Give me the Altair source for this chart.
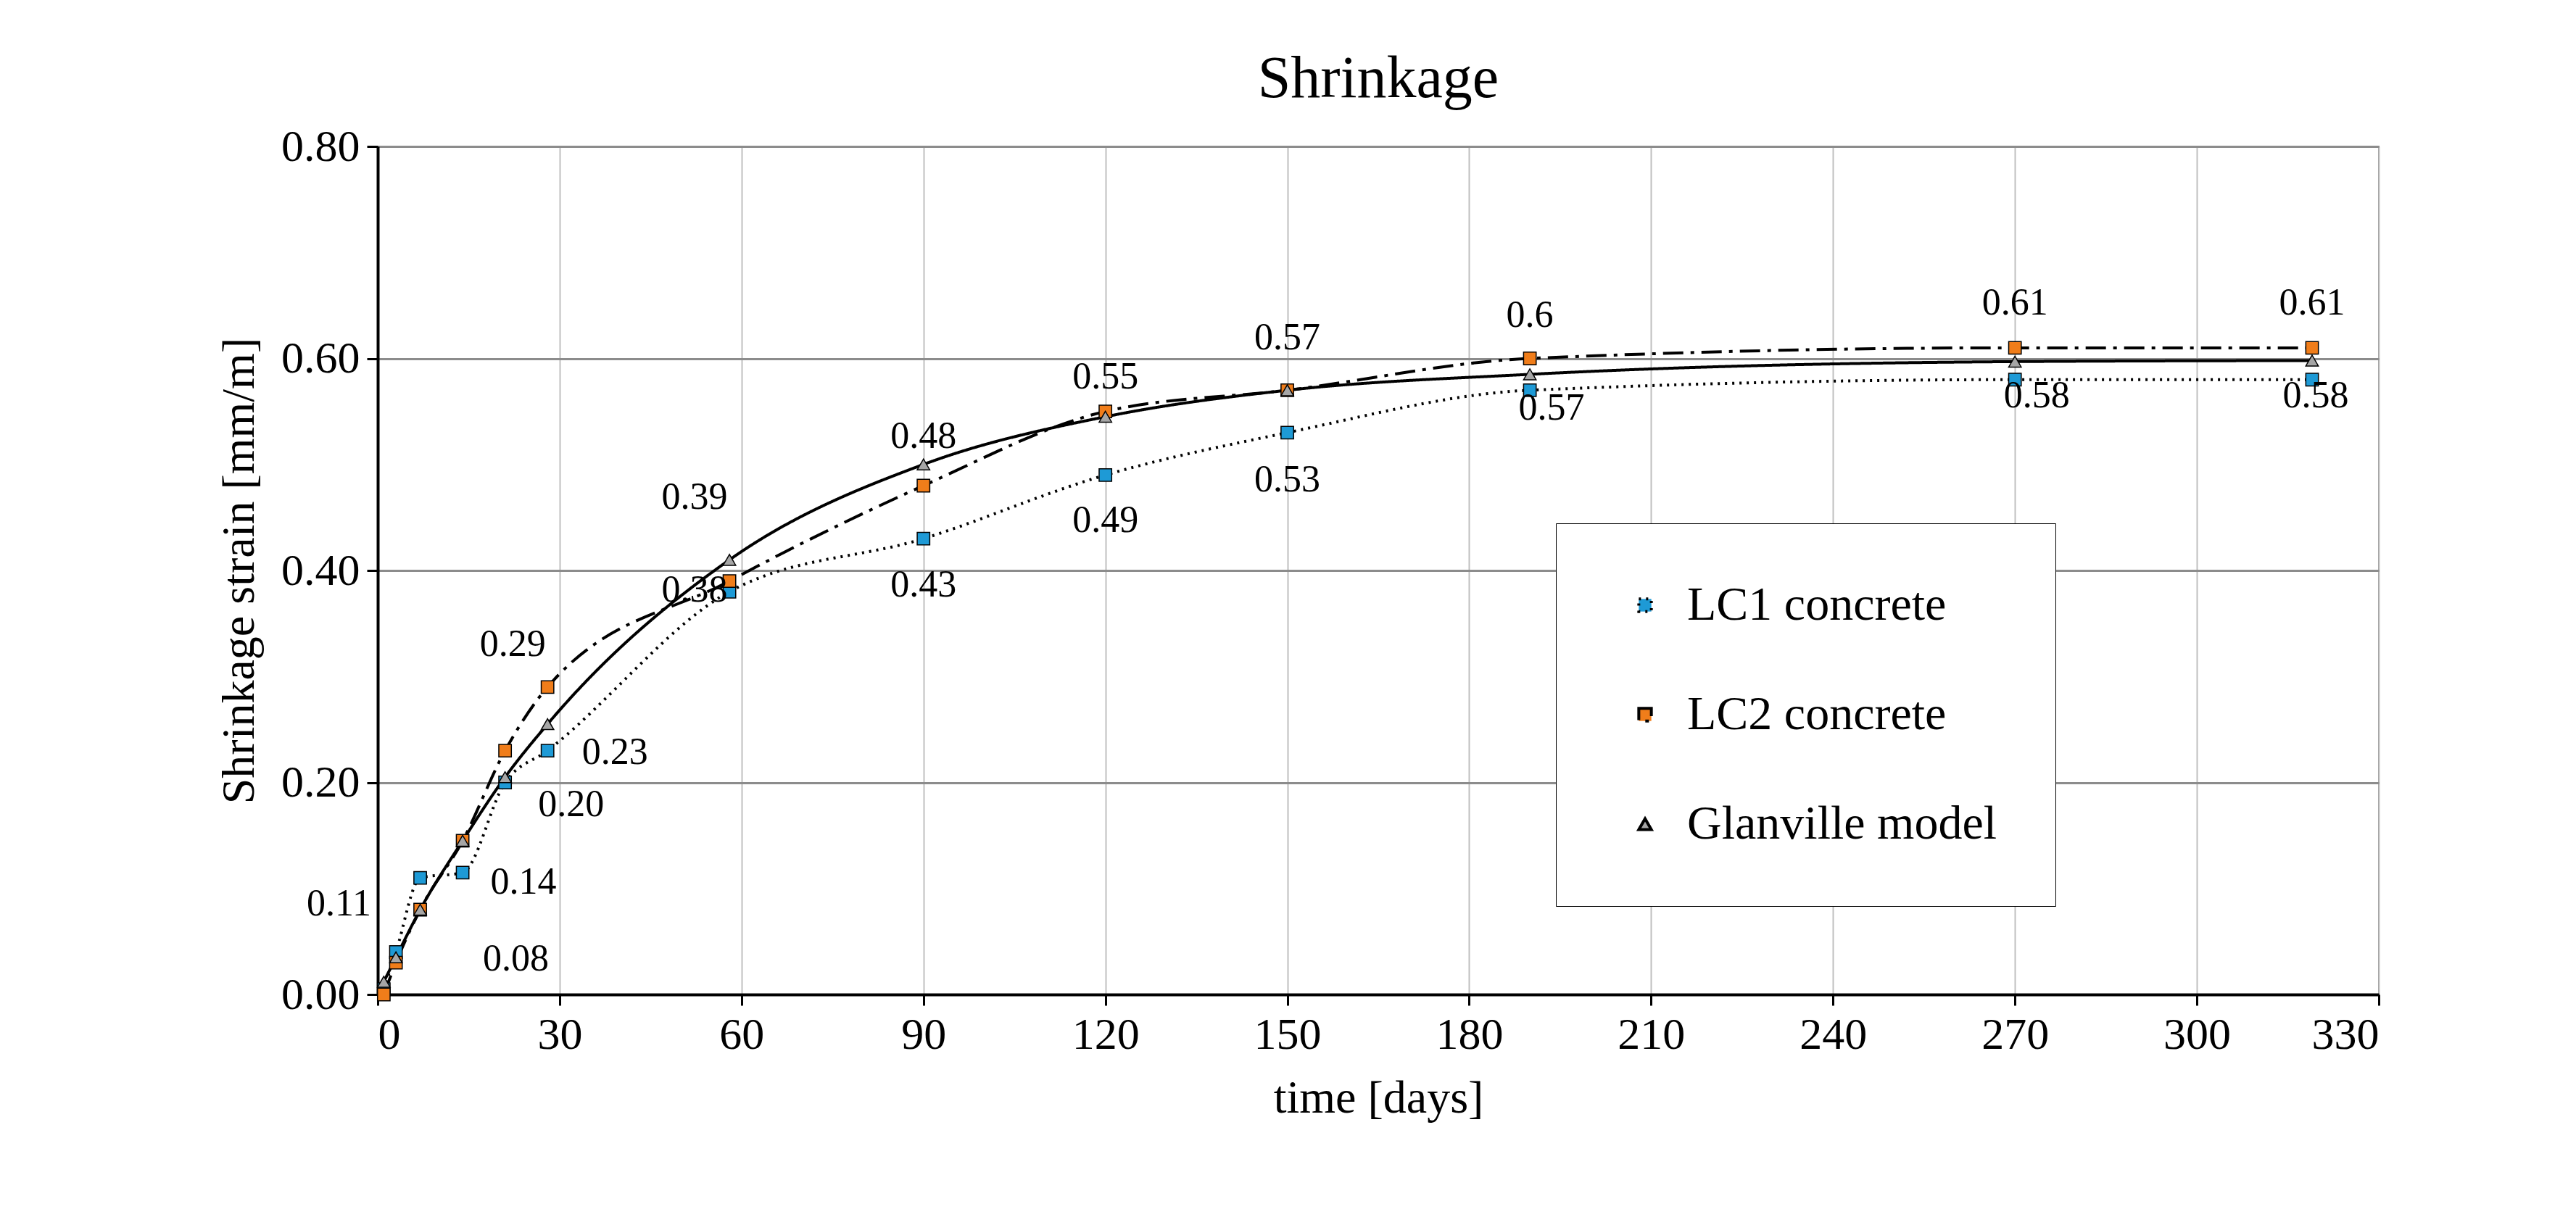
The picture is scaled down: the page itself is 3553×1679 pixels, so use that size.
import altair as alt
import pandas as pd

days = [1, 3, 7, 14, 21, 28, 58, 90, 120, 150, 190, 270, 319]
lc1 = [0.005, 0.04, 0.11, 0.115, 0.20, 0.23, 0.38, 0.43, 0.49, 0.53, 0.57, 0.58, 0.58]
lc2 = [0.0, 0.03, 0.08, 0.145, 0.23, 0.29, 0.39, 0.48, 0.55, 0.57, 0.60, 0.61, 0.61]
glan = [0.012, 0.035, 0.08, 0.145, 0.205, 0.255, 0.41, 0.50, 0.545, 0.57, 0.585, 0.597, 0.598]
series = ["LC1 concrete", "LC2 concrete", "Glanville model"]

rows = []
for name, vals in zip(series, [lc1, lc2, glan]):
    for d, v in zip(days, vals):
        rows.append({"day": d, "val": v, "series": name})
df = pd.DataFrame(rows)

lab_series = ["LC1 concrete", "LC2 concrete", "LC2 concrete", "LC1 concrete", "LC1 concrete",
              "LC2 concrete", "LC2 concrete", "LC1 concrete", "LC2 concrete", "LC1 concrete",
              "LC2 concrete", "LC1 concrete", "LC2 concrete", "LC1 concrete", "LC2 concrete",
              "LC1 concrete", "LC2 concrete", "LC1 concrete", "LC2 concrete", "LC1 concrete"]
lab_day = [7, 7, 14, 21, 28, 28, 58, 58, 90, 90, 120, 120, 150, 150, 190, 190, 270, 270, 319, 319]
lab_text = ["0.11", "0.08", "0.14", "0.20", "0.23", "0.29", "0.39", "0.38", "0.48", "0.43",
            "0.55", "0.49", "0.57", "0.53", "0.6", "0.57", "0.61", "0.58", "0.61", "0.58"]
lab_dx = [-112, 132, 84, 91, 93, -48, -48, -48, 0, 0, 0, 0, 0, 0, 0, 30, 0, 30, 0, 5]
lab_dy = [36, 68, 57, 30, 2, -59, -116, -2, -68, 64, -48, 63, -72, 65, -60, 25, -62, 22, -62, 22]

lut = {(r["series"], r["day"]): r["val"] for r in rows}
ldf = pd.DataFrame({"series": lab_series, "day": lab_day, "text": lab_text})
ldf["val"] = [lut[(s, d)] for s, d in zip(lab_series, lab_day)]

FONT = "Liberation Serif"
x = alt.X("day:Q", title="time [days]",
          scale=alt.Scale(domain=[0, 330], nice=False),
          axis=alt.Axis(values=list(range(0, 331, 30)), gridColor="#c0c0c0", gridWidth=2))
y = alt.Y("val:Q", title="Shrinkage strain [mm/m]",
          scale=alt.Scale(domain=[0, 0.8], nice=False),
          axis=alt.Axis(values=[0, 0.2, 0.4, 0.6, 0.8], format=".2f", gridColor="#8c8c8c", gridWidth=3))

lines = alt.Chart(df).mark_line(interpolate="monotone", color="black", strokeWidth=4).encode(
    x=x, y=y,
    strokeDash=alt.StrokeDash("series:N", sort=series,
        scale=alt.Scale(domain=series, range=[[3, 7], [28, 10, 5, 10], [1, 0]]),
        legend=alt.Legend(title=None, orient="none", legendX=1625, legendY=520,
                          symbolType="stroke", symbolStrokeColor="black", symbolStrokeWidth=4,
                          symbolSize=12000, labelFont=FONT, labelFontSize=66, rowPadding=85,
                          padding=80, fillColor="white", strokeColor="black",
                          labelLimit=1000, symbolOffset=10, labelOffset=25)),
)
points = alt.Chart(df).mark_point(filled=True, stroke="black", strokeWidth=1.5, opacity=1).encode(
    x=x, y=y,
    fill=alt.Fill("series:N", scale=alt.Scale(domain=series, range=["#1e9ad6", "#f07d1a", "#a6a6a6"]), legend=None),
    shape=alt.Shape("series:N", scale=alt.Scale(domain=series, range=["square", "square", "triangle-up"]), legend=None),
    size=alt.Size("series:N", scale=alt.Scale(domain=series, range=[300, 300, 550]), legend=None),
)

label_layers = [
    alt.Chart(ldf.iloc[[i]]).mark_text(font=FONT, fontSize=52, color="black",
                                        dx=int(lab_dx[i]), dy=int(lab_dy[i])).encode(
        x="day:Q", y="val:Q", text="text:N")
    for i in range(len(lab_text))
]

chart = alt.layer(lines, points, *label_layers).properties(
    width=2760, height=1170,
    title=alt.Title("Shrinkage", font=FONT, fontSize=82, fontWeight="normal", offset=20),
    padding={"left": 290, "top": 60, "right": 40, "bottom": 20},
).configure_axis(
    labelFont=FONT, titleFont=FONT, labelFontSize=62, titleFontSize=64, titleFontWeight="normal",
    labelColor="black", titleColor="black", domainColor="black", domainWidth=4,
    tickColor="black", tickWidth=3, tickSize=15, labelPadding=10, titlePadding=25,
).configure_view(stroke="#8c8c8c", strokeWidth=2)

chart.save("out.html", embed_options={"renderer": "svg", "actions": False})
